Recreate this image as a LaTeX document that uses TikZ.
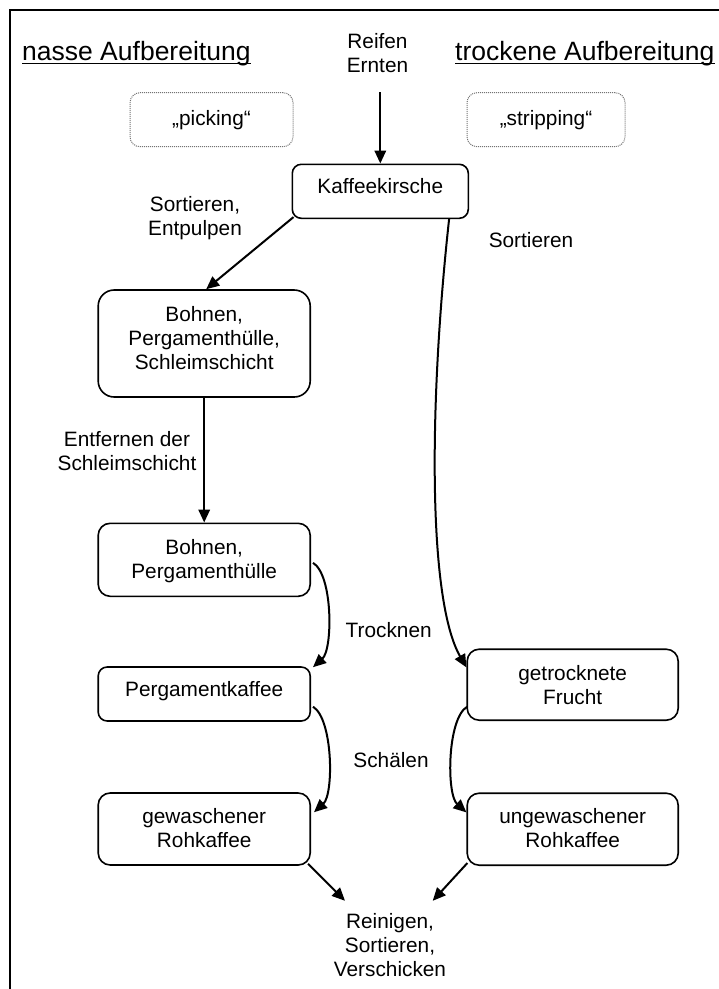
\documentclass[tikz,border=0pt]{standalone}
\usepackage{fontspec}
\setmainfont{Liberation Sans}
\usetikzlibrary{arrows.meta,calc}
\begin{document}
\begin{tikzpicture}[x=1pt,y=-1pt,
  txt/.style={font=\fontsize{20.8}{24}\selectfont, inner sep=0pt, align=center},
  head/.style={font=\fontsize{26.5}{30}\selectfont, inner sep=0pt, anchor=base west},
  procbox/.style={draw, line width=1.6pt, rounded corners=#1, inner sep=0pt},
  hintbox/.style={draw=black!55, line width=1pt, dash pattern=on 1pt off 1pt,
                  rounded corners=10pt, inner sep=0pt,
                  font=\fontsize{20.8}{24}\selectfont},
  arr/.style={line width=2pt, -{Triangle[length=13pt,width=11.5pt]}},
  underl/.style={line width=1.7pt}
]
\useasboundingbox (0,0) rectangle (719,989);
% frame
\draw[line width=2pt] (10,989) -- (10,10) -- (719,10);

% headings
\node[head] (h1) at (22,60) {nasse Aufbereitung};
\draw[underl] ($(h1.base west)+(0,3.5)$) -- ($(h1.base east)+(0,3.5)$);
\node[head] (h2) at (455,60) {trockene Aufbereitung};
\draw[underl] ($(h2.base west)+(0,3.5)$) -- ($(h2.base east)+(0,3.5)$);

\node[txt, anchor=north] (reif) at (377.5,32.8) {Reifen\\Ernten};

% hint boxes
\node[hintbox, minimum width=163pt, minimum height=54pt] (pick) at (211.5,119.7) {„picking“};
\node[hintbox, minimum width=158pt, minimum height=54pt] (strip) at (546,119.7) {„stripping“};

% process boxes
\node[procbox=9pt, minimum width=176pt, minimum height=54pt,
  label={[txt,anchor=north,yshift=-14.3pt]north:Kaffeekirsche}] (kk) at (380.3,191.3) {};
\node[procbox=16pt, minimum width=212pt, minimum height=107pt,
  label={[txt,anchor=north,yshift=-16.8pt]north:{Bohnen,\\Pergamenthülle,\\Schleimschicht}}] (bps) at (204.2,343.5) {};
\node[procbox=12pt, minimum width=212pt, minimum height=73pt,
  label={[txt,anchor=north,yshift=-16.8pt]north:{Bohnen,\\Pergamenthülle}}] (bp) at (204.2,559.8) {};
\node[procbox=9pt, minimum width=212pt, minimum height=54pt,
  label={[txt,anchor=north,yshift=-14.8pt]north:Pergamentkaffee}] (pk) at (204.2,694) {};
\node[procbox=12pt, minimum width=212pt, minimum height=72pt,
  label={[txt,anchor=north,yshift=-16pt]north:{gewaschener\\Rohkaffee}}] (gw) at (204.2,829) {};
\node[procbox=12pt, minimum width=211pt, minimum height=71pt,
  label={[txt,anchor=north,yshift=-16.8pt]north:{getrocknete\\Frucht}}] (gf) at (572.7,684.7) {};
\node[procbox=12pt, minimum width=211pt, minimum height=72pt,
  label={[txt,anchor=north,yshift=-16pt]north:{ungewaschener\\Rohkaffee}}] (uw) at (572.7,829.2) {};

% step labels
\node[txt, anchor=north] (sortE) at (195,195.8) {Sortieren,\\Entpulpen};
\node[txt, anchor=base] (sortR) at (531,247) {Sortieren};
\node[txt, anchor=north] (entf) at (127,431.5) {Entfernen der\\Schleimschicht};
\node[txt, anchor=base] (trock) at (388.7,637) {Trocknen};
\node[txt, anchor=base] (schael) at (391,767) {Schälen};
\node[txt, anchor=north] (rein) at (390,912.8) {Reinigen,\\Sortieren,\\Verschicken};

% connectors
\draw[arr] ($(kk.north |- reif.south)+(0,20)$) -- (kk.north);
\draw[arr] ($(kk.south west)+(2,-2)$) -- ($(bps.north)+(2,0)$);
\draw[arr] ($(kk.south east)+(-20,0)$) .. controls +(-20,182) and +(-39,-68) .. ($(gf.north west)+(0,19)$);
\draw[arr] (bps.south) -- (bp.north);
\draw[arr] ($(bp.east)+(2,3)$) .. controls +(20,12) and +(20,-18) .. ($(pk.north east)+(2,1)$);
\draw[arr] ($(pk.east)+(2,12.7)$) .. controls +(20,12) and +(20,-18) .. ($(gw.north east)+(3,20)$);
\draw[arr] ($(gf.west)+(0.7,22)$) .. controls +(-20,12) and +(-20,-18) .. ($(uw.north west)+(0,20)$);
\draw[arr] ($(gw.south east)+(-3,-2)$) -- ($(rein.north)+(-45,-12)$);
\draw[arr] ($(uw.south west)+(1,-3)$) -- ($(rein.north)+(42.7,-12)$);
\end{tikzpicture}
\end{document}
